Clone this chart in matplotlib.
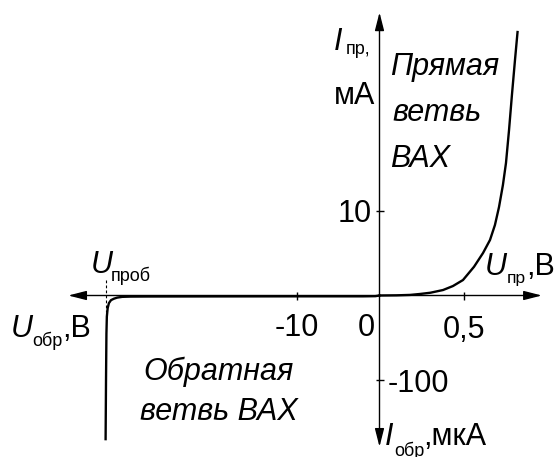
import matplotlib
matplotlib.use('Agg')
import matplotlib.pyplot as plt

# forward branch: voltage (V) / current (mA)
fwd_u = [0, 0.1, 0.18, 0.238, 0.3, 0.374, 0.432, 0.491, 0.556, 0.609, 0.65, 0.679,
         0.703, 0.726, 0.744, 0.762, 0.779, 0.797, 0.812]
fwd_i = [0, 0.02, 0.07, 0.18, 0.33, 0.65, 1.12, 1.83, 3.4, 5.03, 6.57, 8.34,
         10.47, 13.08, 15.68, 19.59, 23.73, 27.87, 31.18]

# reverse branch: voltage (V) / current (uA)
rev_u = [0, -0.5, -2, -10, -20, -28, -30, -31, -31.6, -32.0, -32.35, -32.6, -32.75, -32.85, -32.9, -32.95, -33.0]
rev_i = [0, -0.8, -1.0, -1.0, -1.1, -1.2, -1.3, -1.6, -2.5, -3.8, -5.5, -9, -15, -25, -45, -100, -170]

u_break = -32.9
break_span = [18, -20]

fwd_xticks = [0.5]
fwd_xlabels = ['0,5']
fwd_yticks = [10]
fwd_ylabels = ['10']
rev_xticks = [-10]
rev_xlabels = ['-10']
rev_yticks = [-100]
rev_ylabels = ['-100']

plt.rcParams['font.family'] = ['Liberation Sans', 'DejaVu Sans']
big = 22
small = 13

W, H = 554, 457
fig = plt.figure(figsize=(W / 100, H / 100), dpi=100)
fig.patch.set_facecolor('white')

# pixel-space layer for the captions
bg = fig.add_axes([0, 0, 1, 1])
bg.set_xlim(0, W)
bg.set_ylim(H, 0)
bg.axis('off')

# origin and scales (pixels per unit)
ox, oy = 379.5, 295.5
px_fu, px_fi = 170.0, 8.45
px_ru, px_ri = 8.3, 0.845
fwd_lim = (0.955, 33.5)
rev_lim = (-37.5, -179.0)

fw = fwd_lim[0] * px_fu
fh = fwd_lim[1] * px_fi
fwd = fig.add_axes([ox / W, (H - oy) / H, fw / W, fh / H])
fwd.set_xlim(0, fwd_lim[0])
fwd.set_ylim(0, fwd_lim[1])

rw = -rev_lim[0] * px_ru
rh = -rev_lim[1] * px_ri
rev = fig.add_axes([(ox - rw) / W, (H - oy - rh) / H, rw / W, rh / H])
rev.set_xlim(rev_lim[0], 0)
rev.set_ylim(rev_lim[1], 0)

arrow = dict(arrowstyle='-|>,head_length=1.1,head_width=0.28', lw=1.0, color='black',
             shrinkA=0, shrinkB=0, mutation_scale=10)

for ax in (fwd, rev):
    ax.patch.set_visible(False)
    for s in ax.spines.values():
        s.set_visible(False)
    ax.tick_params(direction='inout', length=6, width=1.0, color='black',
                   labelsize=big, pad=2.5)

# forward quadrant: axes, ticks, curve
fwd.annotate('', xy=(1, 0), xytext=(0, 0), xycoords='axes fraction', arrowprops=arrow)
fwd.annotate('', xy=(0, 1), xytext=(0, 0), xycoords='axes fraction', arrowprops=arrow)
fwd.set_xticks(fwd_xticks, fwd_xlabels)
fwd.set_yticks(fwd_yticks, fwd_ylabels)
fwd.tick_params(axis='x', pad=11)
fwd.plot(fwd_u, fwd_i, color='black', lw=1.7, clip_on=False, zorder=3,
         solid_joinstyle='round')
fwd.annotate('0', xy=(0, 0), xytext=(-3, -12.5), textcoords='offset points',
             ha='right', va='top', fontsize=big)

# reverse quadrant
rev.annotate('', xy=(0, 1), xytext=(1, 1), xycoords='axes fraction', arrowprops=arrow)
rev.annotate('', xy=(1, 0), xytext=(1, 1), xycoords='axes fraction', arrowprops=arrow)
rev.xaxis.tick_top()
rev.yaxis.tick_right()
rev.set_xticks(rev_xticks, [''] * len(rev_xticks))
rev.set_yticks(rev_yticks, rev_ylabels)
for t, lab in zip(rev_xticks, rev_xlabels):
    rev.annotate(lab, xy=(t, 0), xytext=(0, -12.5), textcoords='offset points',
                 ha='center', va='top', fontsize=big)
rev.plot(rev_u, rev_i, color='black', lw=1.7, clip_on=False, zorder=3,
         solid_joinstyle='round')
rev.plot([u_break, u_break], break_span, color='black', lw=0.8,
         ls=(0, (2.5, 2)), clip_on=False, zorder=2)


def put(x, y, s, size=big, italic=False):
    bg.text(x, y, s, fontsize=size, style='italic' if italic else 'normal',
            ha='left', va='baseline', color='black')


# axis captions
put(334, 50, 'I', italic=True)
put(346, 54, 'пр,', small)
put(334, 104, 'мА')

put(485, 275, 'U', italic=True)
put(507, 283, 'пр', 12.5)
put(526, 275, ',В')

put(91, 273, 'U', italic=True)
put(111, 281, 'проб', small)

put(11, 337, 'U', italic=True)
put(32, 346, 'обр', small)
put(62, 337, ',В')

put(385, 445, 'I', italic=True)
put(394, 456, 'обр', small)
put(423, 445, ',мкА')

# branch names
put(390, 75, 'Прямая', italic=True)
put(392, 121, 'ветвь', italic=True)
put(390, 167, 'ВАХ', italic=True)
put(143, 380, 'Обратная', italic=True)
put(140, 420, 'ветвь ВАХ', italic=True)

fig.savefig('out.png', dpi=100)
